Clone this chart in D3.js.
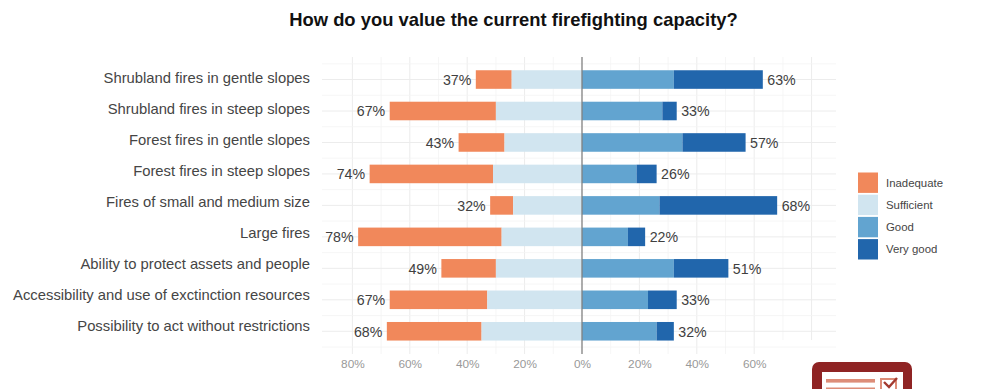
<!DOCTYPE html>
<html>
<head>
<meta charset="utf-8">
<script src="https://cdn.jsdelivr.net/npm/d3@7/dist/d3.min.js"></script>
<style>
  html, body { margin: 0; padding: 0; background: #fff; }
  svg { display: block; font-family: "Liberation Sans", Arial, sans-serif; }
</style>
</head>
<body>
<svg id="chart" width="989" height="389"></svg>
<script>
const chartTitle = "How do you value the current firefighting capacity?";
const categories = [
  "Shrubland fires in gentle slopes",
  "Shrubland fires in steep slopes",
  "Forest fires in gentle slopes",
  "Forest fires in steep slopes",
  "Fires of small and medium size",
  "Large fires",
  "Ability to protect assets and people",
  "Accessibility and use of exctinction resources",
  "Possibility to act without restrictions"
];
const levels = ["Inadequate", "Sufficient", "Good", "Very good"];
const levelColors = ["#f1885b", "#d1e5f0", "#62a4d0", "#2166ac"];
const inadequate = [12.5, 37, 16, 43, 8, 50, 19, 34, 33];
const sufficient = [24.5, 30, 27, 31, 24, 28, 30, 33, 35];
const good = [32, 28, 35, 19, 27, 16, 32, 23, 26];
const veryGood = [31, 5, 22, 7, 41, 6, 19, 10, 6];
const negativeLabels = [37, 67, 43, 74, 32, 78, 49, 67, 68];
const positiveLabels = [63, 33, 57, 26, 68, 22, 51, 33, 32];
const xTicks = [-80, -60, -40, -20, 0, 20, 40, 60];
const xGridMajor = [-80, -60, -40, -20, 20, 40, 60, 80];
const xGridMinor = [-70, -50, -30, -10, 10, 30, 50, 70];

const svg = d3.select("#chart");
const x = d3.scaleLinear().domain([-80, 60]).range([352.4, 754.2]);
const y = d3.scaleBand().domain(categories).range([63.8, 347]).paddingInner(0.41).paddingOuter(0.205);
const yLabel = d3.scalePoint().domain(categories).range([78, 326]);
const panelLeft = 322, panelRight = 836, panelTop = 57, panelBottom = 354;
const rowMid = d => y(d) + y.bandwidth() / 2;

// Panel grid: majors at the ticks, minors halfway between them
const grid = svg.append("g");
const vLine = (vals, stroke, w) => grid.selectAll(null).data(vals).join("line")
  .attr("x1", d => x(d)).attr("x2", d => x(d))
  .attr("y1", panelTop).attr("y2", d => d > 60 ? panelBottom - 14 : panelBottom)
  .attr("stroke", stroke).attr("stroke-width", w);
vLine(xGridMinor, "#f4f4f4", 0.8);
vLine(xGridMajor, "#ececec", 1);
grid.selectAll(null).data(categories).join("line")
  .attr("x1", panelLeft).attr("x2", panelRight)
  .attr("y1", rowMid).attr("y2", rowMid)
  .attr("stroke", "#ececec");
const halfSteps = [-0.5, ...categories.map((c, i) => i + 0.5)];
grid.selectAll(null).data(halfSteps).join("line")
  .attr("x1", panelLeft).attr("x2", panelRight)
  .attr("y1", d => rowMid(categories[0]) + d * y.step())
  .attr("y2", d => rowMid(categories[0]) + d * y.step())
  .attr("stroke", "#f4f4f4").attr("stroke-width", 0.8);

// Diverging bars: each row stacks outward from zero
const rows = categories.map((c, i) => ({
  c, i,
  segs: [
    { k: 0, x0: -sufficient[i] - inadequate[i], x1: -sufficient[i] },
    { k: 1, x0: -sufficient[i], x1: 0 },
    { k: 2, x0: 0, x1: good[i] },
    { k: 3, x0: good[i], x1: good[i] + veryGood[i] }
  ]
}));
svg.append("g").selectAll("g").data(rows).join("g")
  .attr("transform", d => `translate(0,${y(d.c)})`)
  .selectAll("rect").data(d => d.segs).join("rect")
  .attr("x", d => x(d.x0)).attr("width", d => x(d.x1) - x(d.x0))
  .attr("height", y.bandwidth())
  .attr("fill", d => levelColors[d.k]);

// Zero reference line
svg.append("line")
  .attr("x1", x(0)).attr("x2", x(0)).attr("y1", panelTop).attr("y2", panelBottom)
  .attr("stroke", "#808080").attr("stroke-width", 1.3);

// Totals beside each bar
const labels = svg.append("g").attr("font-size", 14.2).attr("fill", "#404040");
labels.selectAll(null).data(rows).join("text")
  .attr("x", d => x(-negativeLabels[d.i]) - 4.5)
  .attr("y", d => rowMid(d.c) + 0.5)
  .attr("dy", "0.35em").attr("text-anchor", "end")
  .text(d => negativeLabels[d.i] + "%");
labels.selectAll(null).data(rows).join("text")
  .attr("x", d => x(positiveLabels[d.i]) + 4.5)
  .attr("y", d => rowMid(d.c) + 0.5)
  .attr("dy", "0.35em").attr("text-anchor", "start")
  .text(d => positiveLabels[d.i] + "%");

// Axes, with the domain and tick marks hidden
const xAxis = svg.append("g").attr("transform", `translate(0,${panelBottom})`)
  .call(d3.axisBottom(x).tickValues(xTicks).tickSize(0).tickPadding(6).tickFormat(d => Math.abs(d) + "%"));
xAxis.select(".domain").remove();
xAxis.selectAll("text").attr("font-size", 11.8).attr("font-family", "inherit").attr("fill", "#999");

const yAxis = svg.append("g").attr("transform", "translate(310,0)")
  .call(d3.axisLeft(yLabel).tickSize(0).tickPadding(0));
yAxis.select(".domain").remove();
yAxis.selectAll("text").attr("font-size", 14.8).attr("font-family", "inherit").attr("fill", "#454545");

// Title
svg.append("text").attr("x", 513.5).attr("y", 25.5).attr("text-anchor", "middle")
  .attr("font-size", 18.4).attr("font-weight", "bold").attr("fill", "#111").text(chartTitle);

// Legend
const legend = svg.append("g").attr("transform", "translate(858,172.5)");
levels.forEach((lab, i) => {
  const g = legend.append("g").attr("transform", `translate(0,${i * 22.2})`);
  g.append("rect").attr("width", 20).attr("height", 20.4).attr("fill", levelColors[i]);
  g.append("text").attr("x", 28).attr("y", 10.4).attr("dy", "0.35em")
    .attr("font-size", 11.4).attr("fill", "#454545").text(lab);
});

// Survey badge in the lower right corner
const badge = svg.append("g");
badge.append("rect").attr("x", 812).attr("y", 362).attr("width", 100).attr("height", 60).attr("rx", 7).attr("fill", "#8f2424");
badge.append("rect").attr("x", 822).attr("y", 372).attr("width", 81).attr("height", 40).attr("fill", "#fff");
badge.selectAll(null).data([379, 387.5]).join("rect")
  .attr("x", 826).attr("y", d => d).attr("width", 49).attr("height", 3.6).attr("fill", "#dd8d78");
badge.append("rect").attr("x", 881).attr("y", 379).attr("width", 15).attr("height", 15).attr("fill", "none").attr("stroke", "#dd8d78").attr("stroke-width", 2);
badge.append("path").attr("d", "M884 382l5 5 8-9").attr("fill", "none").attr("stroke", "#a33a30").attr("stroke-width", 2.4);
</script>
</body>
</html>
